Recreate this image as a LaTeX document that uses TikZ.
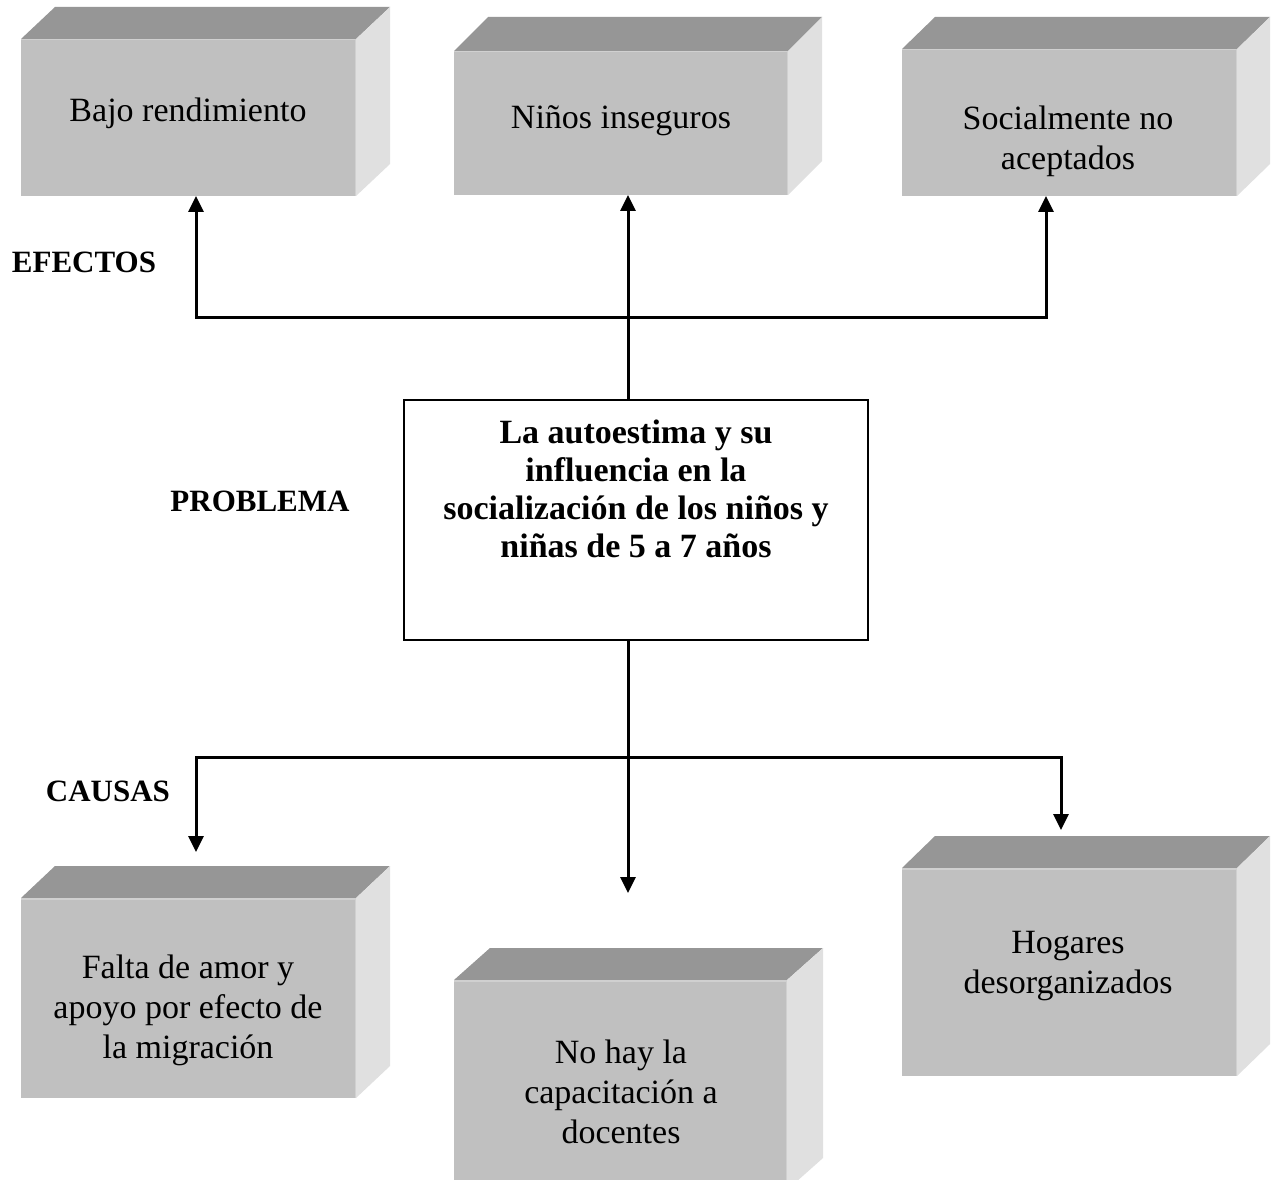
\documentclass[tikz,border=0pt]{standalone}
\usepackage{fontspec}
\setmainfont{Liberation Serif}
\usetikzlibrary{arrows.meta,calc}
\definecolor{frontc}{HTML}{C0C0C0}
\definecolor{topc}{HTML}{969696}
\definecolor{sidec}{HTML}{E0E0E0}
\definecolor{edgec}{HTML}{D0D0D0}
\tikzset{
  frontface/.style={fill=frontc, inner sep=0pt, outer sep=0pt},
  txt/.style={align=center, inner sep=0pt, font=\fontsize{34}{40}\selectfont},
  lbl/.style={inner sep=0pt, font=\fontsize{31}{38}\selectfont\bfseries},
  conn/.style={line width=3pt, line join=miter},
  tip/.style={-{Triangle[width=15pt,length=16pt]}},
  probbox/.style={draw, line width=2.3pt, inner sep=0pt, minimum width=464pt, minimum height=240pt}
}
% name, x1, y1, x2, y2, depth-x, depth-y
\newcommand\cubebox[7]{%
  \node[frontface, minimum width={(#4-#2)*1pt}, minimum height={(#5-#3)*1pt}] (#1) at ({(#2+#4)/2},{(#3+#5)/2}) {};
  \fill[topc] (#1.north west) -- ++(#6,-#7) -- ($(#1.north east)+(#6,-#7)$) -- (#1.north east) -- cycle;
  \fill[sidec] (#1.north east) -- ++(#6,-#7) -- ($(#1.south east)+(#6,-#7)$) -- (#1.south east) -- cycle;
  \draw[edgec, line width=1.5pt] ([yshift=-0.75pt]#1.north west) -- ([yshift=-0.75pt,xshift=-0.75pt]#1.north east) -- ([xshift=-0.75pt]#1.south east);
}
\begin{document}
\begin{tikzpicture}[x=1pt,y=-1pt]
\useasboundingbox (0,0) rectangle (1278,1180);
\fill[white] (0,0) rectangle (1278,1180);

% effect boxes
\cubebox{b1}{21}{39}{356}{196}{34}{32}
\cubebox{b2}{454}{51}{788}{195}{34}{34}
\cubebox{b3}{902}{49}{1237}{196}{33}{32}
% cause boxes
\cubebox{b4}{21}{898}{356}{1098}{34}{32}
\cubebox{b5}{454}{980}{787}{1190}{36}{32}
\cubebox{b6}{902}{868}{1237}{1076}{33}{32}

\node[txt] (t1) at (188,113) {Bajo rendimiento};
\node[txt] (t2) at (621,121) {Niños inseguros};
\node[txt] (t3) at (1068,141) {Socialmente no\\aceptados};
\node[txt] (t4) at (188,1010) {Falta de amor y\\apoyo por efecto de\\la migración};
\node[txt] (t5) at (621,1092) {No hay la\\capacitación a\\docentes};
\node[txt] (t6) at (1068,966) {Hogares\\desorganizados};

% problem box
\node[probbox] (c) at (636,520) {};
\node[txt, font=\fontsize{34}{38}\selectfont\bfseries] (ct) at (636,489) {La autoestima y su\\influencia en la\\socialización de los niños y\\niñas de 5 a 7 años};

% labels
\node[lbl] (lef) at (84,262) {EFECTOS};
\node[lbl] (lpr) at (260,501) {PROBLEMA};
\node[lbl] (lca) at (108,791) {CAUSAS};

% connectors - effects
\coordinate (e1) at (196,317);
\coordinate (e3) at (1046,317);
\coordinate (jx) at (628,317);
\draw[conn, {Triangle[width=15pt,length=16pt]}-{Triangle[width=15pt,length=16pt]}]
  (e1 |- b1.south) -- (e1) -- (e3) -- (e3 |- b3.south);
\draw[conn, tip] (jx |- c.north) -- (jx |- b2.south);

% connectors - causes
\coordinate (k1) at (196,757);
\coordinate (k3) at (1061,757);
\coordinate (tl) at (196,852);
\coordinate (tr) at (1061,830);
\coordinate (tc) at (628,893);
\draw[conn, {Triangle[width=15pt,length=16pt]}-{Triangle[width=15pt,length=16pt]}]
  (tl) -- (k1) -- (k3) -- (tr);
\draw[conn, tip] (jx |- c.south) -- (tc);
\end{tikzpicture}
\end{document}
